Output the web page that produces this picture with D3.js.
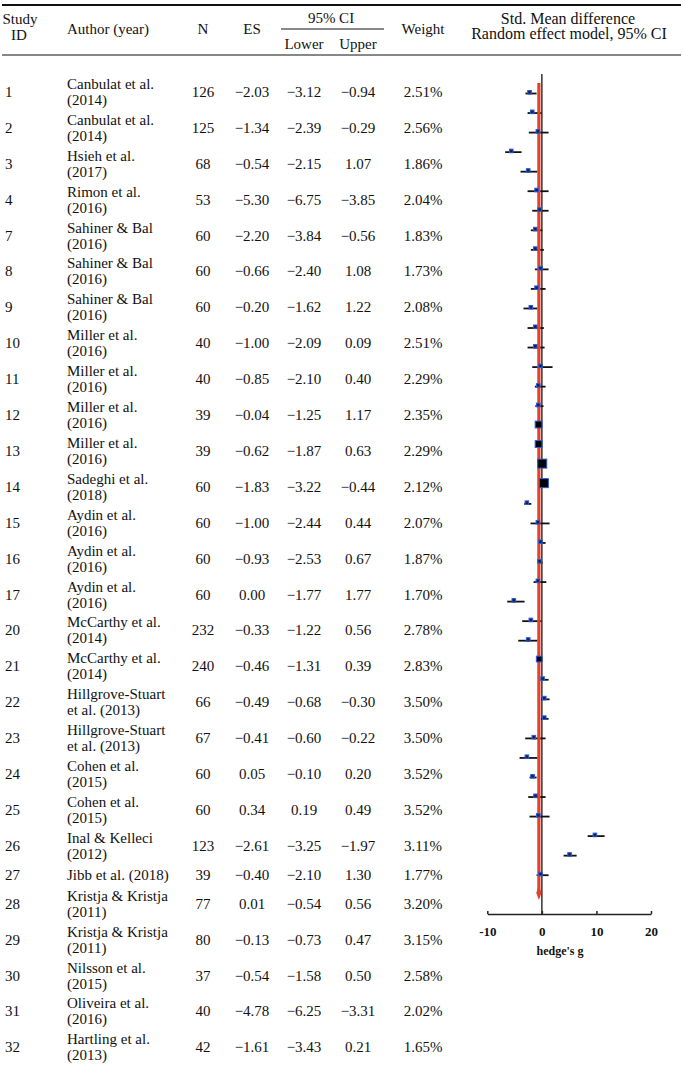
<!DOCTYPE html>
<html lang="en">
<head>
<meta charset="UTF-8">
<title>Forest plot</title>
<script src="https://cdnjs.cloudflare.com/ajax/libs/d3/7.8.5/d3.min.js"></script>
<style>
  body { margin: 0; background: #fff; }
  svg text { font-family: "Liberation Serif", "Times New Roman", serif; fill: #111; }
</style>
</head>
<body>
<svg id="chart" width="683" height="1075"></svg>
<script>
// table data
const ids = [1, 2, 3, 4, 7, 8, 9, 10, 11, 12, 13, 14, 15, 16, 17, 20, 21, 22, 23, 24, 25, 26, 27, 28, 29, 30, 31, 32];
const authors = [
  ["Canbulat et al.", "(2014)"], ["Canbulat et al.", "(2014)"], ["Hsieh et al.", "(2017)"],
  ["Rimon et al.", "(2016)"], ["Sahiner & Bal", "(2016)"], ["Sahiner & Bal", "(2016)"],
  ["Sahiner & Bal", "(2016)"], ["Miller et al.", "(2016)"], ["Miller et al.", "(2016)"],
  ["Miller et al.", "(2016)"], ["Miller et al.", "(2016)"], ["Sadeghi et al.", "(2018)"],
  ["Aydin et al.", "(2016)"], ["Aydin et al.", "(2016)"], ["Aydin et al.", "(2016)"],
  ["McCarthy et al.", "(2014)"], ["McCarthy et al.", "(2014)"],
  ["Hillgrove-Stuart", "et al. (2013)"], ["Hillgrove-Stuart", "et al. (2013)"],
  ["Cohen et al.", "(2015)"], ["Cohen et al.", "(2015)"], ["Inal & Kelleci", "(2012)"],
  ["Jibb et al. (2018)"], ["Kristja & Kristja", "(2011)"], ["Kristja & Kristja", "(2011)"],
  ["Nilsson et al.", "(2015)"], ["Oliveira et al.", "(2016)"], ["Hartling et al.", "(2013)"]
];
const sampleN = [126, 125, 68, 53, 60, 60, 60, 40, 40, 39, 39, 60, 60, 60, 60, 232, 240, 66, 67, 60, 60, 123, 39, 77, 80, 37, 40, 42];
const es = [-2.03, -1.34, -0.54, -5.30, -2.20, -0.66, -0.20, -1.00, -0.85, -0.04, -0.62, -1.83, -1.00, -0.93, 0.00, -0.33, -0.46, -0.49, -0.41, 0.05, 0.34, -2.61, -0.40, 0.01, -0.13, -0.54, -4.78, -1.61];
const lower = [-3.12, -2.39, -2.15, -6.75, -3.84, -2.40, -1.62, -2.09, -2.10, -1.25, -1.87, -3.22, -2.44, -2.53, -1.77, -1.22, -1.31, -0.68, -0.60, -0.10, 0.19, -3.25, -2.10, -0.54, -0.73, -1.58, -6.25, -3.43];
const upper = [-0.94, -0.29, 1.07, -3.85, -0.56, 1.08, 1.22, 0.09, 0.40, 1.17, 0.63, -0.44, 0.44, 0.67, 1.77, 0.56, 0.39, -0.30, -0.22, 0.20, 0.49, -1.97, 1.30, 0.56, 0.47, 0.50, -3.31, 0.21];
const weights = ["2.51%", "2.56%", "1.86%", "2.04%", "1.83%", "1.73%", "2.08%", "2.51%", "2.29%", "2.35%", "2.29%", "2.12%", "2.07%", "1.87%", "1.70%", "2.78%", "2.83%", "3.50%", "3.50%", "3.52%", "3.52%", "3.11%", "1.77%", "3.20%", "3.15%", "2.58%", "2.02%", "1.65%"];

// forest plot (embedded picture) values
const plotES = [-2.26, -1.76, -0.73, -5.61, -2.50, -0.97, -0.42, -1.21, -1.21, -0.24, -0.97, -2.02, -1.21, -1.21, -0.24, -0.66, -0.66, -0.60, -0.60, 0.07, 0.37, -2.75, -0.73, -0.24, -0.42, -0.73, -5.14, -2.02, -2.50, -0.48, 0.13, 0.44, 0.44, -1.47, -2.75, -1.71, -1.16, -0.66, 9.72, 5.08, -0.24];
const plotLo = [-3.00, -2.62, -2.39, -6.72, -3.91, -2.62, -1.76, -2.02, -2.02, -1.28, -2.02, -3.36, -2.62, -2.62, -1.76, -1.28, -1.20, -0.90, -0.90, -0.30, 0.00, -3.23, -2.07, -0.61, -0.73, -1.52, -6.35, -3.60, -4.33, -0.80, -0.24, -0.11, -0.11, -3.05, -4.09, -2.26, -2.50, -2.26, 8.39, 3.98, -0.97];
const plotHi = [-0.97, -0.05, 1.23, -3.72, -0.84, 1.23, 1.23, 0.07, 0.37, 1.23, 0.68, -0.84, 0.37, 0.50, 1.96, 0.68, 0.30, -0.40, -0.40, 0.45, 0.75, -1.94, 1.41, 0.68, 0.13, 0.81, -3.17, -0.06, -0.79, -0.15, 1.23, 1.41, 1.23, 0.68, -0.79, -0.97, 0.68, 1.41, 11.50, 6.37, 1.23];
const plotWt = [1, 1, 1, 1, 1, 1, 1, 1, 1, 1, 1, 1, 1, 1, 1, 1, 1, 2.5, 2.5, 3.5, 3.5, 1, 1, 1, 1, 1, 1, 1, 1, 2, 1, 1, 1, 1, 1, 1, 1, 1, 1, 1, 1];
const pooled = -0.55;
const axisTicks = [-10, 0, 10, 20];

const svg = d3.select("#chart");
const fmt = d3.format(".2f");

// column positions
const col = { id: 5, author: 67, n: 203, es: 252, lo: 304, hi: 358, wt: 423 };

// row layout: two-line rows are taller than single-line rows
const rowH = authors.map(a => a.length > 1 ? 35.9 : 22);
const tableTop = 74;
const rowTop = [0].concat(Array.from(d3.cumsum(rowH))).slice(0, rowH.length);
const rowC = rowTop.map((t, i) => tableTop + t + rowH[i] / 2);

// rules
svg.append("line").attr("x1", 2).attr("x2", 681).attr("y1", 5).attr("y2", 5)
  .attr("stroke", "#111").attr("stroke-width", 2);
svg.append("line").attr("x1", 2).attr("x2", 681).attr("y1", 55).attr("y2", 55)
  .attr("stroke", "#111").attr("stroke-width", 1);
svg.append("line").attr("x1", 281).attr("x2", 384).attr("y1", 29).attr("y2", 29)
  .attr("stroke", "#111").attr("stroke-width", 1);

// header
const head = svg.append("g").attr("font-size", 15).attr("text-anchor", "middle");
[
  ["Study", 20, 24], ["ID", 19, 40], ["Author (year)", 108, 34], ["N", col.n, 34],
  ["ES", col.es, 34], ["95% CI", (col.lo + col.hi) / 2, 23], ["Lower", col.lo, 49],
  ["Upper", col.hi, 49], ["Weight", col.wt, 34]
].forEach(([t, x, y]) => head.append("text").attr("x", x).attr("y", y).text(t));
[["Std. Mean difference", 568, 24], ["Random effect model, 95% CI", 569, 39]]
  .forEach(([t, x, y]) => head.append("text").attr("x", x).attr("y", y)
    .attr("font-size", 16).text(t));

// body
const rows = svg.append("g").attr("font-size", 15)
  .selectAll("g").data(ids).join("g")
  .attr("transform", (d, i) => `translate(0,${rowC[i]})`);

rows.append("text").attr("x", col.id).attr("y", 5).text(d => d);
rows.append("text").attr("x", col.author)
  .selectAll("tspan").data((d, i) => authors[i].map((t, k) => ({ t, k, n: authors[i].length })))
  .join("tspan").attr("x", col.author)
  .attr("y", d => d.n === 1 ? 5 : (d.k === 0 ? -3 : 13))
  .text(d => d.t);
rows.append("text").attr("x", col.n).attr("y", 5).attr("text-anchor", "middle").text((d, i) => sampleN[i]);
rows.append("text").attr("x", col.es).attr("y", 5).attr("text-anchor", "middle").text((d, i) => fmt(es[i]));
rows.append("text").attr("x", col.lo).attr("y", 5).attr("text-anchor", "middle").text((d, i) => fmt(lower[i]));
rows.append("text").attr("x", col.hi).attr("y", 5).attr("text-anchor", "middle").text((d, i) => fmt(upper[i]));
rows.append("text").attr("x", col.wt).attr("y", 5).attr("text-anchor", "middle").text((d, i) => weights[i]);

// forest plot
const x = d3.scaleLinear().domain([-10, 20]).range([487.3, 651]);
const y = d3.scalePoint().domain(d3.range(plotES.length)).range([92.3, 874]);
const size = d3.scaleLinear().domain([1, 3.5]).range([3.6, 9]);
const axisY = 914;

const plot = svg.append("g");

plot.append("line").attr("x1", x(0)).attr("x2", x(0)).attr("y1", 74).attr("y2", axisY)
  .attr("stroke", "#333").attr("stroke-width", 1.5);

plot.selectAll("line.ci").data(plotES).join("line").attr("class", "ci")
  .attr("x1", (d, i) => x(plotLo[i])).attr("x2", (d, i) => x(plotHi[i]))
  .attr("y1", (d, i) => y(i) + 1.2).attr("y2", (d, i) => y(i) + 1.2)
  .attr("stroke", "#111").attr("stroke-width", 1.8);

plot.append("line").attr("x1", x(pooled)).attr("x2", x(pooled)).attr("y1", 83).attr("y2", 893)
  .attr("stroke", "#e8412a").attr("stroke-width", 3.2);
plot.append("path")
  .attr("d", `M${x(pooled)},885 L${x(pooled) + 2.6},893 L${x(pooled)},900 L${x(pooled) - 2.6},893 Z`)
  .attr("fill", "#e8412a");

plot.selectAll("rect.box").data(plotES).join("rect").attr("class", "box")
  .attr("x", (d, i) => x(d) - size(plotWt[i]) / 2)
  .attr("y", (d, i) => y(i) - size(plotWt[i]) / 2)
  .attr("width", (d, i) => size(plotWt[i]))
  .attr("height", (d, i) => size(plotWt[i]))
  .attr("fill", (d, i) => plotWt[i] > 1 ? "#000" : "#13205c")
  .attr("stroke", "#2a5bd7").attr("stroke-width", 1);

const ax = plot.append("g").attr("transform", `translate(0,${axisY})`)
  .call(d3.axisBottom(x).tickValues(axisTicks).tickFormat(d => String(d))
    .tickSizeInner(-3).tickSizeOuter(0).tickPadding(13));
ax.select(".domain").attr("stroke", "#222").attr("stroke-width", 1.5);
ax.selectAll(".tick line").attr("stroke", "#222").attr("stroke-width", 1.5);
ax.selectAll(".tick text").attr("font-family", "Liberation Serif, serif")
  .attr("font-size", 13).attr("font-weight", "bold").attr("fill", "#222");

plot.append("text").attr("x", 560).attr("y", 955).attr("text-anchor", "middle")
  .attr("font-size", 12).attr("font-weight", "bold").text("hedge's g");
</script>
</body>
</html>
